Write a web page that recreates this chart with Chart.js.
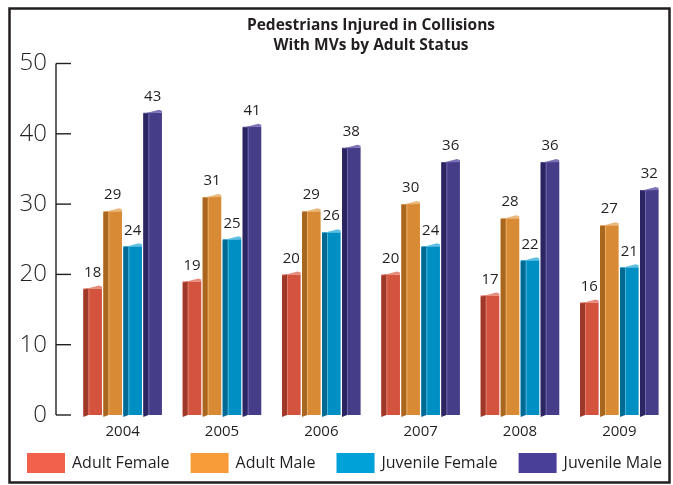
<!DOCTYPE html>
<html>
<head>
<meta charset="utf-8">
<script src="https://cdn.jsdelivr.net/npm/chart.js@4/dist/chart.umd.min.js"></script>
<style>
  html, body { margin: 0; padding: 0; background: #fff; }
  #wrap { width: 673px; height: 485px; }
</style>
</head>
<body>
<div id="wrap"><canvas id="injuryChart" width="673" height="485"></canvas></div>
<script>
// Injured pedestrians per year, split by adult status
const years = ['2004', '2005', '2006', '2007', '2008', '2009'];
const seriesNames = ['Adult Female', 'Adult Male', 'Juvenile Female', 'Juvenile Male'];
const adultFemale = [18, 19, 20, 20, 17, 16];
const adultMale = [29, 31, 29, 30, 28, 27];
const juvenileFemale = [24, 25, 26, 24, 22, 21];
const juvenileMale = [43, 41, 38, 36, 36, 32];
const yTicks = [0, 10, 20, 30, 40, 50];
const titleLines = ['Pedestrians Injured in Collisions', 'With MVs by Adult Status'];

// face colours for the fake 3D bars, plus the flat legend swatches
const frontColors = ['#d4533f', '#d98a34', '#008fc3', '#463d89'];
const sideColors = ['#9e3828', '#a9661f', '#006a93', '#2b2561'];
const topColors = ['#e58c7c', '#eab87a', '#5fc0e3', '#7d74b8'];
const legendColors = ['#f1614b', '#f89c3a', '#00a0d8', '#4a3f98'];
const ink = '#231f20';
const baseFont = "'Open Sans', 'DejaVu Sans', sans-serif";

const seriesValues = [adultFemale, adultMale, juvenileFemale, juvenileMale];

// side + top faces and the value labels
const barFaces = {
    id: 'barFaces',
    afterDatasetsDraw(chart) {
        const ctx = chart.ctx;
        ctx.save();
        chart.data.datasets.forEach((ds, i) => {
            chart.getDatasetMeta(i).data.forEach((bar, j) => {
                const { x, y, base, width } = bar.getProps(['x', 'y', 'base', 'width'], true);
                const l = x - width / 2, r = x + width / 2, d = 5;

                // left side, dropping a little below the front
                ctx.fillStyle = sideColors[i];
                ctx.beginPath();
                ctx.moveTo(l, y + 1);
                ctx.lineTo(l + d, y);
                ctx.lineTo(l + d, base);
                ctx.lineTo(l, base + 2);
                ctx.closePath();
                ctx.fill();

                // sloped top cap
                ctx.fillStyle = topColors[i];
                ctx.beginPath();
                ctx.moveTo(l, y + 1);
                ctx.lineTo(r - 3, y - 3);
                ctx.lineTo(r, y - 2);
                ctx.lineTo(r, y);
                ctx.lineTo(l + d, y + 0.5);
                ctx.closePath();
                ctx.fill();

                // thin edge highlight
                ctx.strokeStyle = topColors[i];
                ctx.lineWidth = 0.8;
                ctx.beginPath();
                ctx.moveTo(l + d + 0.5, y + 1);
                ctx.lineTo(l + d + 0.5, base);
                ctx.stroke();

                // value above the bar
                ctx.fillStyle = ink;
                ctx.font = '15px ' + baseFont;
                ctx.textAlign = 'center';
                ctx.textBaseline = 'middle';
                ctx.fillText(ds.data[j], x, y - 16);
            });
        });
        ctx.restore();
    }
};

// title, axis line with inward ticks, outer frame and legend row
const frameAndAxis = {
    id: 'frameAndAxis',
    beforeDraw(chart) {
        const ctx = chart.ctx;
        ctx.save();
        ctx.fillStyle = '#fff';
        ctx.fillRect(0, 0, chart.width, chart.height);
        ctx.restore();
    },
    afterDraw(chart) {
        const ctx = chart.ctx;
        const yScale = chart.scales.y;
        const ax = chart.chartArea.left - 17;
        ctx.save();

        ctx.fillStyle = ink;
        ctx.font = "bold 15.5px 'Open Sans', sans-serif";
        ctx.textAlign = 'center';
        ctx.textBaseline = 'middle';
        titleLines.forEach((t, k) => ctx.fillText(t, 371, 26 + k * 20));

        ctx.strokeStyle = ink;
        ctx.lineWidth = 1.4;
        ctx.beginPath();
        ctx.moveTo(ax, yScale.getPixelForValue(yTicks[yTicks.length - 1]));
        ctx.lineTo(ax, yScale.getPixelForValue(yTicks[0]));
        ctx.stroke();
        yTicks.forEach(v => {
            const py = yScale.getPixelForValue(v);
            ctx.beginPath();
            ctx.moveTo(ax, py);
            ctx.lineTo(ax + 15, py);
            ctx.stroke();
        });

        // frame
        ctx.lineWidth = 2.5;
        ctx.strokeRect(9.5, 8.5, 660, 474);

        // legend
        ctx.font = '16px ' + baseFont;
        ctx.textBaseline = 'middle';
        ctx.textAlign = 'left';
        let lx = 27;
        const ly = 453;
        seriesNames.forEach((name, i) => {
            ctx.fillStyle = legendColors[i];
            ctx.fillRect(lx, ly, 38, 20);
            ctx.fillStyle = ink;
            ctx.fillText(name, lx + 45, ly + 10);
            lx += 45 + ctx.measureText(name).width + 21;
        });
        ctx.restore();
    }
};

const ctx = document.getElementById('injuryChart').getContext('2d');
new Chart(ctx, {
    type: 'bar',
    data: {
        labels: years,
        datasets: seriesNames.map((name, i) => ({
            label: name,
            data: seriesValues[i],
            backgroundColor: frontColors[i],
            borderWidth: 0,
            categoryPercentage: 0.805,
            barPercentage: 0.93
        }))
    },
    options: {
        responsive: false,
        animation: false,
        layout: { padding: { top: 63.5, left: 10, right: 4, bottom: 36 } },
        scales: {
            x: {
                grid: { display: false, drawTicks: false },
                border: { display: false },
                ticks: { color: ink, font: { family: baseFont, size: 15 }, padding: 8 }
            },
            y: {
                min: 0,
                max: 50,
                afterFit(scale) { scale.width = 63; },
                grid: { display: false, drawTicks: false },
                border: { display: false },
                ticks: {
                    stepSize: 10,
                    color: ink,
                    padding: 26,
                    font: { family: baseFont, size: 24, weight: '300' }
                }
            }
        },
        plugins: {
            legend: { display: false },
            tooltip: { enabled: false },
            title: { display: false }
        }
    },
    plugins: [barFaces, frameAndAxis]
});
</script>
</body>
</html>
